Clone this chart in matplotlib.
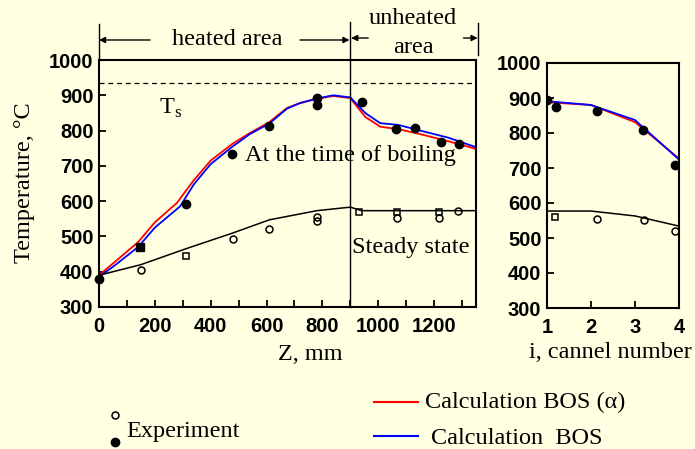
import numpy as np
import matplotlib
matplotlib.use("Agg")
import matplotlib.pyplot as plt
from matplotlib.lines import Line2D
from matplotlib.ticker import MultipleLocator

plt.rcParams['mathtext.fontset'] = 'custom'
plt.rcParams['mathtext.rm'] = 'Liberation Serif'

# Temperatur entlang der Rohrlaenge Z, mm
z_bos_a = [0, 60, 140, 200, 279, 340, 400, 477, 540, 610, 673, 720, 781, 839, 900, 953, 1007, 1072, 1150, 1250, 1350]
t_bos_a = [390, 430, 484, 540, 595, 660, 715, 762, 793, 824, 864, 878, 890, 898, 892, 839, 811, 804, 790, 770, 748]
z_bos = [0, 60, 140, 200, 290, 340, 400, 477, 540, 610, 673, 720, 781, 839, 900, 953, 1007, 1072, 1150, 1250, 1350]
t_bos = [385, 420, 470, 525, 585, 648, 705, 754, 790, 820, 862, 878, 891, 900, 894, 850, 821, 816, 800, 780, 753]
z_steady = [0, 150, 311, 480, 610, 780, 900, 940, 1100, 1350]
t_steady = [390, 420, 465, 510, 547, 573, 583, 573, 573, 573]

# Messwerte: gefuellt = Siedebeginn, offen = stationaer
z_exp_boil = [0, 312, 477, 610, 782, 782, 943, 1065, 1133, 1226, 1290]
t_exp_boil = [380, 592, 734, 813, 892, 873, 881, 804, 808, 768, 762]
z_exp_boil_sq = [147]
t_exp_boil_sq = [470]
z_exp_st = [150, 481, 610, 781, 781, 1068, 1219, 1287]
t_exp_st = [405, 493, 521, 555, 544, 552, 552, 573]
z_exp_st_sq = [311, 932, 1068, 1219]
t_exp_st_sq = [445, 569, 569, 569]

# Temperatur nach Kanalnummer i
kanal = [1, 2, 3, 4]
t_k_bos_a = [888, 880, 831, 727]
t_k_bos = [891, 880, 837, 724]
t_k_steady = [577, 577, 563, 534]
k_exp_boil = [1.0, 1.2, 2.14, 3.18, 3.9]
t_k_exp_boil = [895, 874, 863, 809, 709]
k_exp_st = [2.14, 3.2, 3.9]
t_k_exp_st = [554, 551, 520]
k_exp_st_sq = [1.18]
t_k_exp_st_sq = [560]

hinter = '#ffffe1'
serif = 'Liberation Serif'
sans = 'Liberation Sans'
fs = 17.5

fig = plt.figure(figsize=(6.95, 4.49), dpi=100, facecolor=hinter)
ax = fig.add_axes([99/695, 1-307/449, 377/695, 247/449], facecolor=hinter)
ax2 = fig.add_axes([547/695, 1-308/449, 132/695, 245/449], facecolor=hinter)

for a in (ax, ax2):
    for s in a.spines.values():
        s.set_linewidth(1.5)
    a.tick_params(direction='in', length=5, width=1.3, labelsize=14.5, pad=4)
    a.tick_params(axis='x', pad=7)
    a.tick_params(which='minor', direction='in', length=5, width=1.3)
    a.set_ylim(300, 1000)
    a.yaxis.set_major_locator(MultipleLocator(100))

ax.set_xlim(0, 1350)
ax.xaxis.set_major_locator(MultipleLocator(200))
ax.xaxis.set_minor_locator(MultipleLocator(100))

ax.plot(z_bos_a, t_bos_a, color='red', lw=1.3)
ax.plot(z_bos, t_bos, color='blue', lw=1.3)
ax.plot(z_steady, t_steady, color='black', lw=1.1)
ax.axhline(935, color='black', lw=0.9, ls=(0, (4, 3)))
ax.plot(z_exp_boil, t_exp_boil, 'o', ms=6, color='black', clip_on=False)
ax.plot(z_exp_boil_sq, t_exp_boil_sq, 's', ms=5.5, color='black')
ax.plot(z_exp_st, t_exp_st, 'o', ms=5, mfc='none', mec='black', mew=1.1)
ax.plot(z_exp_st_sq, t_exp_st_sq, 's', ms=4.5, mfc='none', mec='black', mew=1.1)

# Grenzen beheizter / unbeheizter Bereich
tr = ax.get_xaxis_transform()
ax.plot([900, 900], [0, 1.155], color='black', lw=1, transform=tr, clip_on=False)
ax.plot([0, 0], [1.0, 1.146], color='black', lw=1, transform=tr, clip_on=False)
ax.plot([1358, 1358], [1.02, 1.15], color='black', lw=1, transform=tr, clip_on=False)
pfeil = dict(arrowstyle='-|>', color='black', lw=1, mutation_scale=9, shrinkA=0, shrinkB=0)
ax.annotate('', xy=(0, 1.081), xytext=(183, 1.081), xycoords=tr, textcoords=tr, arrowprops=pfeil)
ax.annotate('', xy=(897, 1.081), xytext=(720, 1.081), xycoords=tr, textcoords=tr, arrowprops=pfeil)
ax.annotate('', xy=(903, 1.089), xytext=(964, 1.089), xycoords=tr, textcoords=tr, arrowprops=pfeil)
ax.annotate('', xy=(1356, 1.089), xytext=(1305, 1.089), xycoords=tr, textcoords=tr, arrowprops=pfeil)
ax.text(459, 1.081, 'heated area', transform=tr, ha='center', va='center', fontsize=fs, family=serif)
ax.text(1125, 1.17, 'unheated', transform=tr, ha='center', va='center', fontsize=fs, family=serif)
ax.text(1125, 1.05, 'area', transform=tr, ha='center', va='center', fontsize=fs, family=serif)

ax.text(215, 862, r'T$_\mathrm{s}$', ha='left', va='center', fontsize=fs, family=serif)
ax.text(523, 728, 'At the time of boiling', ha='left', va='center', fontsize=fs, family=serif)
ax.text(907, 470, 'Steady state', ha='left', va='center', fontsize=fs, family=serif)

# Kanaele
ax2.set_xlim(1, 4)
ax2.set_xticks(kanal)
ax2.plot(kanal, t_k_bos_a, color='red', lw=1.3)
ax2.plot(kanal, t_k_bos, color='blue', lw=1.3)
ax2.plot(kanal, t_k_steady, color='black', lw=1.1)
ax2.plot(k_exp_boil, t_k_exp_boil, 'o', ms=6, color='black')
ax2.plot(k_exp_st, t_k_exp_st, 'o', ms=5, mfc='none', mec='black', mew=1.1)
ax2.plot(k_exp_st_sq, t_k_exp_st_sq, 's', ms=4.5, mfc='none', mec='black', mew=1.1)

for a in (ax, ax2):
    for lab in a.get_xticklabels() + a.get_yticklabels():
        lab.set_fontfamily(sans)
        lab.set_fontweight('bold')

fig.text(25/695, 1-183/449, 'Temperature, °C', rotation=90, ha='center', va='center', fontsize=fs, family=serif)
fig.text(310/695, 1-355/449, 'Z, mm', ha='center', va='center', fontsize=fs, family=serif)
fig.text(610/695, 1-352/449, 'i, cannel number', ha='center', va='center', fontsize=fs, family=serif)

# Legende
fig.add_artist(Line2D([115/695], [1-415/449], marker='o', ms=5, mfc='none', mec='black', mew=1.1, ls='none'))
fig.add_artist(Line2D([115/695], [1-442/449], marker='o', ms=6, color='black', ls='none'))
fig.text(126/695, 1-431/449, 'Experiment', ha='left', va='center', fontsize=fs, family=serif)
fig.add_artist(Line2D([374/695, 418/695], [1-402/449]*2, color='red', lw=1.5))
fig.add_artist(Line2D([374/695, 418/695], [1-436/449]*2, color='blue', lw=1.5))
fig.text(425/695, 1-402/449, 'Calculation BOS (α)', ha='left', va='center', fontsize=fs, family=serif)
fig.text(431/695, 1-438/449, 'Calculation  BOS', ha='left', va='center', fontsize=fs, family=serif)

fig.savefig('out.png', dpi=100, facecolor=hinter)
